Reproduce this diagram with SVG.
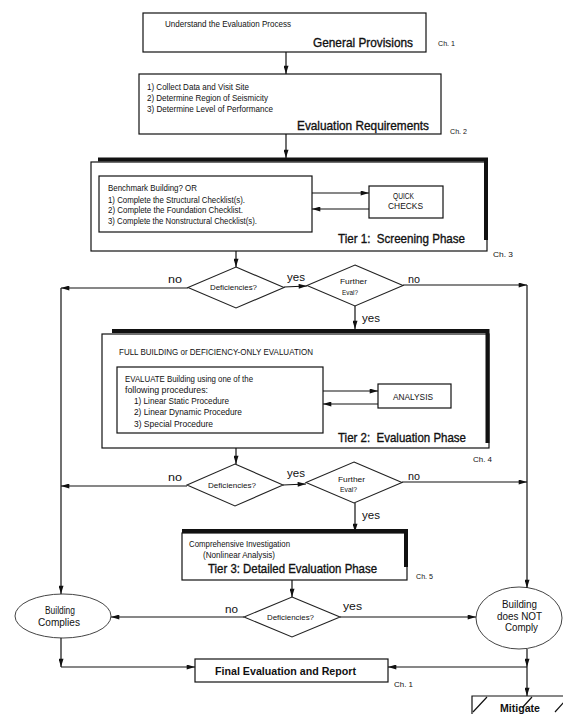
<svg xmlns="http://www.w3.org/2000/svg" width="563" height="714" viewBox="0 0 563 714">
<defs>
<marker id="ah" viewBox="0 0 10 6" refX="10" refY="3" markerWidth="9" markerHeight="5" orient="auto" markerUnits="userSpaceOnUse"><path d="M0,0 L10,3 L0,6 z" fill="#111"/></marker>
<style>
text{font-family:"Liberation Sans",Arial,sans-serif;fill:#111;white-space:pre}
.s{font-size:9px}
.m{font-size:11px}
.l{font-size:13px;stroke:#111;stroke-width:0.35}
.c{font-size:8px}
.b{font-weight:bold}
.box{fill:#fff;stroke:#111;stroke-width:1.2}
.thick{fill:none;stroke:#111;stroke-width:4}
.dia{fill:#fff;stroke:#222;stroke-width:1.1}
.ell{fill:#fff;stroke:#444;stroke-width:1}
.cn{fill:none;stroke:#111;stroke-width:1.2}
.ar{marker-end:url(#ah)}
</style>
</defs>
<rect width="563" height="714" fill="#fff"/>

<g id="general-provisions">
<rect class="box" x="143" y="13" width="283" height="39"/>
<text class="s" x="165" y="27" textLength="126" lengthAdjust="spacingAndGlyphs">Understand the Evaluation Process</text>
<text class="l" x="313" y="46.5" textLength="100" lengthAdjust="spacingAndGlyphs">General Provisions</text>
<text class="c" x="438" y="46" textLength="17" lengthAdjust="spacingAndGlyphs">Ch. 1</text>
</g>

<g id="evaluation-requirements">
<rect class="box" x="139" y="74" width="302" height="60"/>
<text class="s" x="147" y="90" textLength="102" lengthAdjust="spacingAndGlyphs">1) Collect Data and Visit Site</text>
<text class="s" x="147" y="101" textLength="121" lengthAdjust="spacingAndGlyphs">2) Determine Region of Seismicity</text>
<text class="s" x="147" y="112" textLength="126" lengthAdjust="spacingAndGlyphs">3) Determine Level of Performance</text>
<text class="l" x="297" y="130" textLength="132" lengthAdjust="spacingAndGlyphs">Evaluation Requirements</text>
<text class="c" x="450" y="134" textLength="17" lengthAdjust="spacingAndGlyphs">Ch. 2</text>
</g>

<g id="tier1">
<rect class="box" x="91" y="162" width="396" height="89"/>
<polyline class="thick" points="98,159.5 486,159.5 486,240"/>
<text class="l" x="338" y="243" textLength="127" lengthAdjust="spacingAndGlyphs">Tier 1:  Screening Phase</text>
<text class="c" x="493" y="257" textLength="20" lengthAdjust="spacingAndGlyphs">Ch. 3</text>
</g>
<g id="checklists">
<rect class="box" x="99" y="176" width="213" height="56"/>
<text class="s" x="108" y="191" textLength="89" lengthAdjust="spacingAndGlyphs">Benchmark Building? OR</text>
<text class="s" x="108" y="203" textLength="137" lengthAdjust="spacingAndGlyphs">1) Complete the Structural Checklist(s).</text>
<text class="s" x="108" y="213" textLength="135" lengthAdjust="spacingAndGlyphs">2) Complete the Foundation Checklist.</text>
<text class="s" x="108" y="224" textLength="149" lengthAdjust="spacingAndGlyphs">3) Complete the Nonstructural Checklist(s).</text>
</g>
<g id="quick-checks">
<rect class="box" x="369" y="186" width="74" height="32"/>
<text class="s" x="393" y="199" textLength="21" lengthAdjust="spacingAndGlyphs">QUICK</text>
<text class="s" x="388" y="209" textLength="35" lengthAdjust="spacingAndGlyphs">CHECKS</text>
</g>

<g id="deficiencies1">
<polygon class="dia" points="236,267 284,287.5 236,308 188,287.5"/>
<text class="c" x="210" y="290" textLength="47" lengthAdjust="spacingAndGlyphs">Deficiencies?</text>
</g>
<g id="further-eval1">
<polygon class="dia" points="355,265 403,285.5 355,306 307,285.5"/>
<text class="c" x="340" y="284" textLength="27" lengthAdjust="spacingAndGlyphs">Further</text>
<text class="c" x="342" y="295" textLength="16" lengthAdjust="spacingAndGlyphs">Eval?</text>
</g>

<g id="tier2">
<rect class="box" x="102" y="334" width="387" height="114"/>
<polyline class="thick" points="112,331 487.5,331 487.5,443"/>
<text class="s" x="119" y="355" textLength="194" lengthAdjust="spacingAndGlyphs">FULL BUILDING or DEFICIENCY-ONLY EVALUATION</text>
<text class="l" x="338" y="442" textLength="128" lengthAdjust="spacingAndGlyphs">Tier 2:  Evaluation Phase</text>
<text class="c" x="473" y="462" textLength="19" lengthAdjust="spacingAndGlyphs">Ch. 4</text>
</g>
<g id="evaluate">
<rect class="box" x="117" y="367" width="206" height="66"/>
<text class="s" x="125" y="382" textLength="128" lengthAdjust="spacingAndGlyphs">EVALUATE Building using one of the</text>
<text class="s" x="125" y="393" textLength="83" lengthAdjust="spacingAndGlyphs">following procedures:</text>
<text class="s" x="134" y="404" textLength="95" lengthAdjust="spacingAndGlyphs">1) Linear Static Procedure</text>
<text class="s" x="134" y="415" textLength="108" lengthAdjust="spacingAndGlyphs">2) Linear Dynamic Procedure</text>
<text class="s" x="134" y="427" textLength="79" lengthAdjust="spacingAndGlyphs">3) Special Procedure</text>
</g>
<g id="analysis">
<rect class="box" x="378" y="384" width="73" height="24"/>
<text class="s" x="393" y="400" textLength="40" lengthAdjust="spacingAndGlyphs">ANALYSIS</text>
</g>

<g id="deficiencies2">
<polygon class="dia" points="235,464 283,485 235,506 187,485"/>
<text class="c" x="208" y="488" textLength="48" lengthAdjust="spacingAndGlyphs">Deficiencies?</text>
</g>
<g id="further-eval2">
<polygon class="dia" points="354,462 402,482.5 354,503 306,482.5"/>
<text class="c" x="338" y="482" textLength="27" lengthAdjust="spacingAndGlyphs">Further</text>
<text class="c" x="340" y="492" textLength="17" lengthAdjust="spacingAndGlyphs">Eval?</text>
</g>

<g id="tier3">
<rect class="box" x="182" y="533" width="225" height="47"/>
<polyline class="thick" points="182,531 406,531 406,567"/>
<text class="s" x="189" y="547" textLength="101" lengthAdjust="spacingAndGlyphs">Comprehensive Investigation</text>
<text class="s" x="203" y="558" textLength="72" lengthAdjust="spacingAndGlyphs">(Nonlinear Analysis)</text>
<text class="l" x="208" y="573" textLength="169" lengthAdjust="spacingAndGlyphs">Tier 3: Detailed Evaluation Phase</text>
<text class="c" x="416" y="579" textLength="17" lengthAdjust="spacingAndGlyphs">Ch. 5</text>
</g>

<g id="deficiencies3">
<polygon class="dia" points="292,597 340,617 292,637 244,617"/>
<text class="c" x="267" y="620" textLength="47" lengthAdjust="spacingAndGlyphs">Deficiencies?</text>
</g>

<g id="building-complies">
<ellipse class="ell" cx="63" cy="616" rx="48" ry="22"/>
<text class="m" x="45" y="614" textLength="30" lengthAdjust="spacingAndGlyphs">Building</text>
<text class="m" x="38" y="626" textLength="42" lengthAdjust="spacingAndGlyphs">Complies</text>
</g>
<g id="building-not-comply">
<ellipse class="ell" cx="519" cy="618" rx="43" ry="31"/>
<text class="m" x="502" y="608" textLength="35" lengthAdjust="spacingAndGlyphs">Building</text>
<text class="m" x="497" y="620" textLength="45" lengthAdjust="spacingAndGlyphs">does NOT</text>
<text class="m" x="505" y="631" textLength="33" lengthAdjust="spacingAndGlyphs">Comply</text>
</g>

<g id="final-report">
<rect class="box" x="195" y="659" width="193" height="23"/>
<text class="m b" x="215" y="675" textLength="141" lengthAdjust="spacingAndGlyphs">Final Evaluation and Report</text>
<text class="c" x="394" y="687" textLength="19" lengthAdjust="spacingAndGlyphs">Ch. 1</text>
</g>

<g id="mitigate">
<path class="box" d="M472,714 V696 H570"/>
<path class="cn" d="M473,712 L487,697 M522,708 L532,697 M555,712 L565,701"/>
<text class="m b" x="500" y="712" textLength="40" lengthAdjust="spacingAndGlyphs">Mitigate</text>
</g>

<g id="connectors">
<line class="cn ar" x1="286" y1="52" x2="286" y2="74"/>
<line class="cn ar" x1="286" y1="134" x2="286" y2="158"/>
<line class="cn ar" x1="312" y1="193" x2="369" y2="193"/>
<line class="cn ar" x1="369" y1="209" x2="312" y2="209"/>
<line class="cn ar" x1="323" y1="391" x2="378" y2="391"/>
<line class="cn ar" x1="378" y1="404" x2="323" y2="404"/>
<line class="cn ar" x1="236" y1="251" x2="236" y2="267"/>
<line class="cn ar" x1="188" y1="288" x2="61" y2="288"/>
<line class="cn ar" x1="61" y1="288" x2="61" y2="594"/>
<line class="cn ar" x1="284" y1="287" x2="307" y2="286"/>
<line class="cn ar" x1="403" y1="285" x2="527" y2="285"/>
<line class="cn ar" x1="527" y1="285" x2="527" y2="588"/>
<line class="cn ar" x1="355" y1="306" x2="355" y2="329"/>
<line class="cn ar" x1="236" y1="448" x2="236" y2="464"/>
<line class="cn ar" x1="187" y1="486" x2="61" y2="486"/>
<line class="cn ar" x1="283" y1="485" x2="306" y2="484"/>
<line class="cn ar" x1="402" y1="482" x2="527" y2="482"/>
<line class="cn ar" x1="355" y1="503" x2="355" y2="532"/>
<line class="cn ar" x1="292" y1="580" x2="292" y2="597"/>
<line class="cn ar" x1="244" y1="617" x2="111" y2="617"/>
<line class="cn ar" x1="340" y1="617" x2="476" y2="617"/>
<line class="cn ar" x1="61" y1="638" x2="61" y2="667"/>
<line class="cn ar" x1="61" y1="667" x2="195" y2="667"/>
<line class="cn ar" x1="527" y1="649" x2="527" y2="667"/>
<line class="cn ar" x1="527" y1="667" x2="527" y2="696"/>
<line class="cn ar" x1="527" y1="667" x2="388" y2="667"/>
<text class="m" x="168" y="283" textLength="14" lengthAdjust="spacingAndGlyphs">no</text>
<text class="m" x="287" y="281" textLength="18" lengthAdjust="spacingAndGlyphs">yes</text>
<text class="m" x="408" y="283" textLength="12" lengthAdjust="spacingAndGlyphs">no</text>
<text class="m" x="362" y="322" textLength="18" lengthAdjust="spacingAndGlyphs">yes</text>
<text class="m" x="168" y="481" textLength="14" lengthAdjust="spacingAndGlyphs">no</text>
<text class="m" x="287" y="477" textLength="18" lengthAdjust="spacingAndGlyphs">yes</text>
<text class="m" x="408" y="480" textLength="12" lengthAdjust="spacingAndGlyphs">no</text>
<text class="m" x="362" y="519" textLength="18" lengthAdjust="spacingAndGlyphs">yes</text>
<text class="m" x="225" y="613" textLength="13" lengthAdjust="spacingAndGlyphs">no</text>
<text class="m" x="343" y="610" textLength="19" lengthAdjust="spacingAndGlyphs">yes</text>
</g>
</svg>
